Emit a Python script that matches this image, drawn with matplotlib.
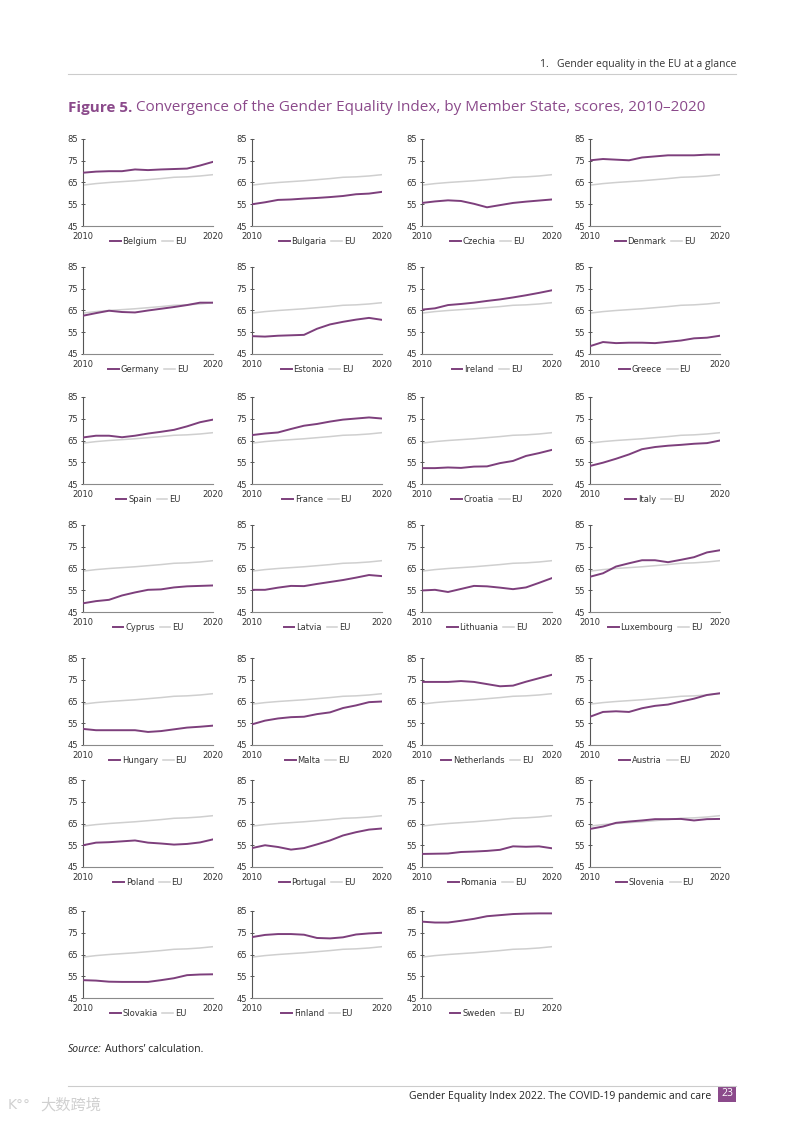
import matplotlib as mpl
import matplotlib.pyplot as plt
from matplotlib.patches import Rectangle
mpl.use('Agg')

years = list(range(2010, 2021))
y_ticks = [45, 55, 65, 75, 85]

eu = [63.8, 64.5, 65.0, 65.4, 65.8, 66.3, 66.8, 67.4, 67.6, 68.0, 68.6]

belgium = [69.5, 70.0, 70.2, 70.2, 71.0, 70.7, 71.0, 71.2, 71.4, 72.8, 74.5]
bulgaria = [55.0, 55.9, 57.0, 57.2, 57.6, 57.9, 58.3, 58.8, 59.6, 59.9, 60.7]
czechia = [55.6, 56.3, 56.8, 56.5, 55.2, 53.6, 54.6, 55.6, 56.2, 56.7, 57.2]
denmark = [75.2, 75.8, 75.5, 75.2, 76.5, 77.0, 77.5, 77.5, 77.5, 77.8, 77.8]
germany = [62.6, 63.8, 64.9, 64.3, 64.1, 65.0, 65.8, 66.6, 67.5, 68.6, 68.6]
estonia = [53.2, 53.0, 53.4, 53.6, 53.8, 56.6, 58.6, 59.8, 60.8, 61.6, 60.7]
ireland = [65.4, 66.0, 67.5, 68.0, 68.6, 69.4, 70.1, 71.0, 72.0, 73.1, 74.3]
greece = [48.6, 50.5, 50.0, 50.2, 50.2, 50.0, 50.6, 51.2, 52.2, 52.5, 53.4]
spain = [66.4, 67.2, 67.2, 66.5, 67.2, 68.2, 69.0, 69.9, 71.5, 73.4, 74.6]
france = [67.5, 68.2, 68.7, 70.3, 71.8, 72.6, 73.7, 74.6, 75.1, 75.6, 75.1]
croatia = [52.3, 52.3, 52.6, 52.4, 53.0, 53.1, 54.6, 55.6, 57.9, 59.2, 60.7]
italy = [53.3, 54.8, 56.6, 58.6, 61.0, 62.0, 62.6, 63.0, 63.5, 63.8, 65.0]
cyprus = [49.0, 50.0, 50.6, 52.6, 54.0, 55.2, 55.4, 56.3, 56.8, 57.0, 57.2]
latvia = [55.2, 55.2, 56.2, 57.0, 56.9, 57.9, 58.8, 59.7, 60.8, 62.0, 61.5]
lithuania = [54.9, 55.2, 54.2, 55.6, 57.0, 56.8, 56.2, 55.5, 56.3, 58.4, 60.6]
luxembourg = [61.2, 62.8, 65.9, 67.4, 68.8, 68.8, 67.9, 69.0, 70.2, 72.4, 73.4]
hungary = [52.4, 51.8, 51.8, 51.8, 51.8, 51.0, 51.4, 52.2, 53.0, 53.4, 53.9]
malta = [54.5, 56.2, 57.2, 57.8, 58.0, 59.2, 60.0, 62.0, 63.2, 64.7, 65.0]
netherlands = [74.0, 74.0, 74.0, 74.4, 74.0, 73.0, 72.0, 72.3, 74.1, 75.7, 77.3]
austria = [58.0, 60.2, 60.5, 60.2, 61.9, 63.0, 63.6, 65.0, 66.3, 68.0, 68.8]
poland = [55.0, 56.2, 56.4, 56.8, 57.2, 56.2, 55.8, 55.3, 55.6, 56.3, 57.7]
portugal = [53.7, 55.0, 54.2, 53.0, 53.7, 55.4, 57.2, 59.5, 61.0, 62.2, 62.7]
romania = [51.0, 51.1, 51.2, 51.9, 52.1, 52.4, 52.9, 54.5, 54.3, 54.5, 53.6]
slovenia = [62.5, 63.6, 65.3, 65.9, 66.4, 67.0, 67.0, 67.1, 66.4, 67.0, 67.1]
slovakia = [53.2, 53.0, 52.5, 52.4, 52.4, 52.4, 53.2, 54.1, 55.5, 55.8, 55.9]
finland = [73.0, 74.0, 74.4, 74.4, 74.1, 72.6, 72.4, 72.9, 74.2, 74.7, 75.0]
sweden = [80.1, 79.7, 79.7, 80.5, 81.4, 82.6, 83.1, 83.6, 83.8, 83.9, 83.9]

countries = ['Belgium', 'Bulgaria', 'Czechia', 'Denmark', 'Germany', 'Estonia', 'Ireland',
             'Greece', 'Spain', 'France', 'Croatia', 'Italy', 'Cyprus', 'Latvia',
             'Lithuania', 'Luxembourg', 'Hungary', 'Malta', 'Netherlands', 'Austria',
             'Poland', 'Portugal', 'Romania', 'Slovenia', 'Slovakia', 'Finland', 'Sweden']
series = [belgium, bulgaria, czechia, denmark, germany, estonia, ireland, greece, spain,
          france, croatia, italy, cyprus, latvia, lithuania, luxembourg, hungary, malta,
          netherlands, austria, poland, portugal, romania, slovenia, slovakia, finland, sweden]

purple = '#7d3f7c'
eu_grey = '#cfcfcf'
narrow = ['Liberation Sans Narrow', 'DejaVu Sans']

W, H = 793, 1122
fig = plt.figure(figsize=(W / 100, H / 100), dpi=100)

col_left = [83, 252, 422, 590]
row_top = [139, 267, 397, 525, 658, 780, 911]
ax_w, ax_h = 130, 87


def small_panel(ax, name, values):
    ax.plot(years, eu, color=eu_grey, lw=1.1, label='EU', zorder=2)
    ax.plot(years, values, color=purple, lw=1.4, label=name, zorder=3)
    ax.set_xlim(2010, 2020)
    ax.set_ylim(45, 85)
    ax.set_yticks(y_ticks)
    ax.set_xticks([2010, 2020])
    for s in ['top', 'right']:
        ax.spines[s].set_visible(False)
    ax.spines['left'].set_color('#555555')
    ax.spines['left'].set_linewidth(0.8)
    ax.spines['bottom'].set_color('#8a8a8a')
    ax.spines['bottom'].set_linewidth(0.8)
    ax.tick_params(axis='y', direction='inout', length=3, width=0.7, color='#555555',
                   labelsize=6, pad=2, labelcolor='#333333')
    ax.tick_params(axis='x', length=0, labelsize=6, pad=4, labelcolor='#333333')
    for lab in ax.get_xticklabels() + ax.get_yticklabels():
        lab.set_family(narrow)
    h, l = ax.get_legend_handles_labels()
    ax.legend(h[::-1], l[::-1], loc='upper center', bbox_to_anchor=(0.5, -0.04), ncol=2,
              frameon=False, handlelength=1.3, handletextpad=0.2, columnspacing=0.6,
              prop={'family': narrow, 'size': 6}, labelcolor='#333333')


for i in range(len(countries)):
    r, c = divmod(i, 4)
    left = col_left[c] / W
    bottom = 1 - (row_top[r] + ax_h) / H
    ax = fig.add_axes([left, bottom, ax_w / W, ax_h / H])
    small_panel(ax, countries[i], series[i])

# page header
fig.text(736 / W, 1 - 65 / H, '1.   Gender equality in the EU at a glance', ha='right', va='center',
         fontsize=7.5, family='Open Sans', color='#333333')
fig.add_artist(plt.Line2D([68 / W, 736 / W], [1 - 74 / H, 1 - 74 / H], color='#cccccc', lw=0.8))

# title
t1 = fig.text(68 / W, 1 - 108 / H, 'Figure 5.', ha='left', va='center', fontsize=11,
              family='Open Sans', weight='bold', color='#8b4a8b')
fig.canvas.draw()
bb = t1.get_window_extent()
fig.text(bb.x1 / W + 4 / W, 1 - 108 / H,
         'Convergence of the Gender Equality Index, by Member State, scores, 2010\u20132020',
         ha='left', va='center', fontsize=11, family='Open Sans', color='#8b4a8b')

# source
s1 = fig.text(68 / W, 1 - 1050 / H, 'Source:', ha='left', va='center', fontsize=7.5,
              family='Open Sans', style='italic', color='#222222')
fig.canvas.draw()
bb = s1.get_window_extent()
fig.text(bb.x1 / W + 3 / W, 1 - 1050 / H, 'Authors\u2019 calculation.', ha='left', va='center',
         fontsize=7.5, family='Open Sans', color='#222222')

# footer
fig.add_artist(plt.Line2D([68 / W, 736 / W], [1 - 1086 / H, 1 - 1086 / H], color='#cccccc', lw=0.8))
fig.text(711 / W, 1 - 1097 / H, 'Gender Equality Index 2022. The COVID-19 pandemic and care',
         ha='right', va='center', fontsize=7.5, family='Open Sans', color='#222222')
fig.add_artist(Rectangle((718 / W, 1 - 1102 / H), 18 / W, 16 / H, transform=fig.transFigure,
                         facecolor='#8b4a8b', edgecolor='none'))
fig.text(727 / W, 1 - 1094 / H, '23', ha='center', va='center', fontsize=7.5,
         family='Open Sans', color='white')

# watermark
fig.text(40 / W, 1 - 1105 / H, '大数跨境', ha='left', va='center', fontsize=11,
         family=['Noto Sans CJK SC', 'DejaVu Sans'], color='#d0d0d0')
fig.text(8 / W, 1 - 1105 / H, 'K\u00b0\u00b0', ha='left', va='center', fontsize=10,
         family='DejaVu Sans', color='#d0d0d0')

plt.savefig('out.png', dpi=100)
plt.close()
